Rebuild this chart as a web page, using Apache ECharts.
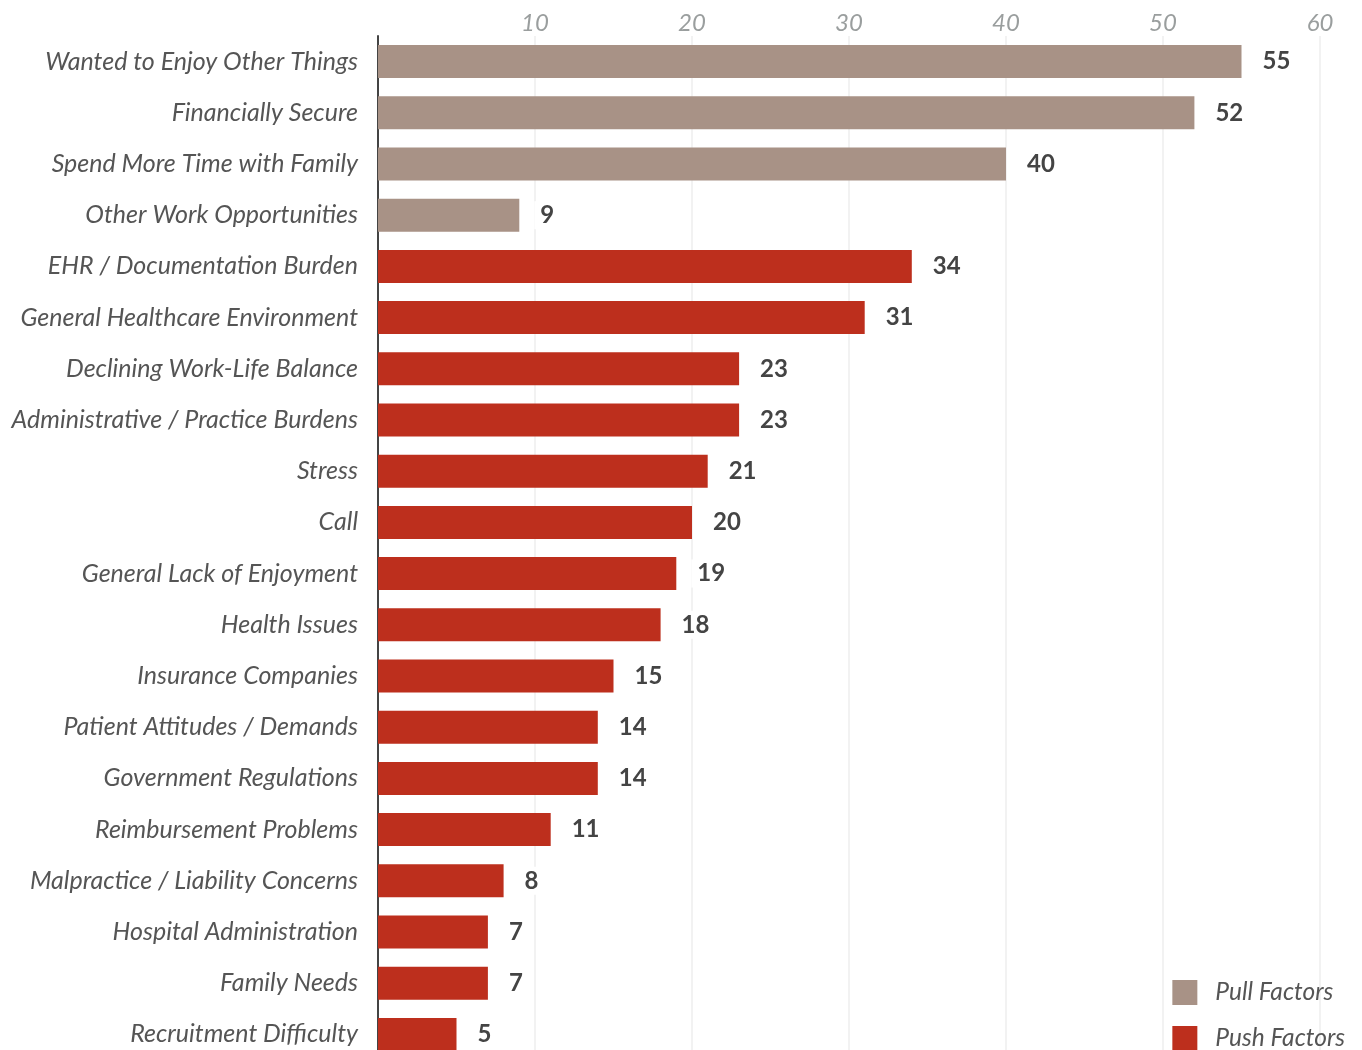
<!DOCTYPE html>
<html>
<head>
<meta charset="utf-8">
<script src="https://cdn.jsdelivr.net/npm/echarts@6/dist/echarts.min.js"></script>
<style>html,body{margin:0;padding:0;background:#fff}#c{width:1362px;height:1050px}</style>
</head>
<body>
<div id="c"></div>
<script>
const categories = [
  "Wanted to Enjoy Other Things","Financially Secure","Spend More Time with Family","Other Work Opportunities",
  "EHR / Documentation Burden","General Healthcare Environment","Declining Work-Life Balance","Administrative / Practice Burdens",
  "Stress","Call","General Lack of Enjoyment","Health Issues","Insurance Companies","Patient Attitudes / Demands",
  "Government Regulations","Reimbursement Problems","Malpractice / Liability Concerns","Hospital Administration",
  "Family Needs","Recruitment Difficulty"
];
const pullValues = [55, 52, 40, 9, '-', '-', '-', '-', '-', '-', '-', '-', '-', '-', '-', '-', '-', '-', '-', '-'];
const pushValues = ['-', '-', '-', '-', 34, 31, 23, 23, 21, 20, 19, 18, 15, 14, 14, 11, 8, 7, 7, 5];
const seriesNames = ["Pull Factors", "Push Factors"];
const axisTicks = [0, 60, 10];

const chart = echarts.init(document.getElementById('c'));
const font = 'Lato';
const labelCfg = {
  show: true, position: 'right', distance: 15,
  color: '#444', fontFamily: font, fontWeight: 'bold', fontSize: 24,
  backgroundColor: '#fff', padding: [3, 6, 1, 6]
};
chart.setOption({
  animation: false,
  grid: { left: 378, right: 42, top: 36, bottom: -10, outerBoundsMode: 'none', containLabel: false },
  legend: {
    orient: 'vertical', right: 12, bottom: -6,
    itemWidth: 25, itemHeight: 25, itemGap: 21, icon: 'rect',
    textStyle: { fontFamily: font, fontStyle: 'italic', fontSize: 24.5, color: '#555', padding: [0, 0, 0, 13] },
    data: seriesNames
  },
  xAxis: {
    type: 'value', position: 'top', min: axisTicks[0], max: axisTicks[1], interval: axisTicks[2],
    axisLine: { show: false }, axisTick: { show: false },
    axisLabel: { showMinLabel: false, margin: 1, color: '#9a9e9e', fontFamily: font, fontStyle: 'italic', fontSize: 24 },
    splitLine: { show: true, lineStyle: { color: '#eeeeee', width: 1.5 } }
  },
  yAxis: {
    type: 'category', inverse: true, data: categories,
    axisLine: { show: true, lineStyle: { color: '#444', width: 2 } },
    axisTick: { show: false },
    axisLabel: { margin: 20, color: '#555', fontFamily: font, fontStyle: 'italic', fontSize: 25 }
  },
  series: [
    { name: seriesNames[0], type: 'bar', stack: 's', data: pullValues, barWidth: 33,
      itemStyle: { color: '#a89286' }, label: labelCfg },
    { name: seriesNames[1], type: 'bar', stack: 's', data: pushValues, barWidth: 33,
      itemStyle: { color: '#bd2f1d' }, label: labelCfg }
  ]
});
</script>
</body>
</html>
